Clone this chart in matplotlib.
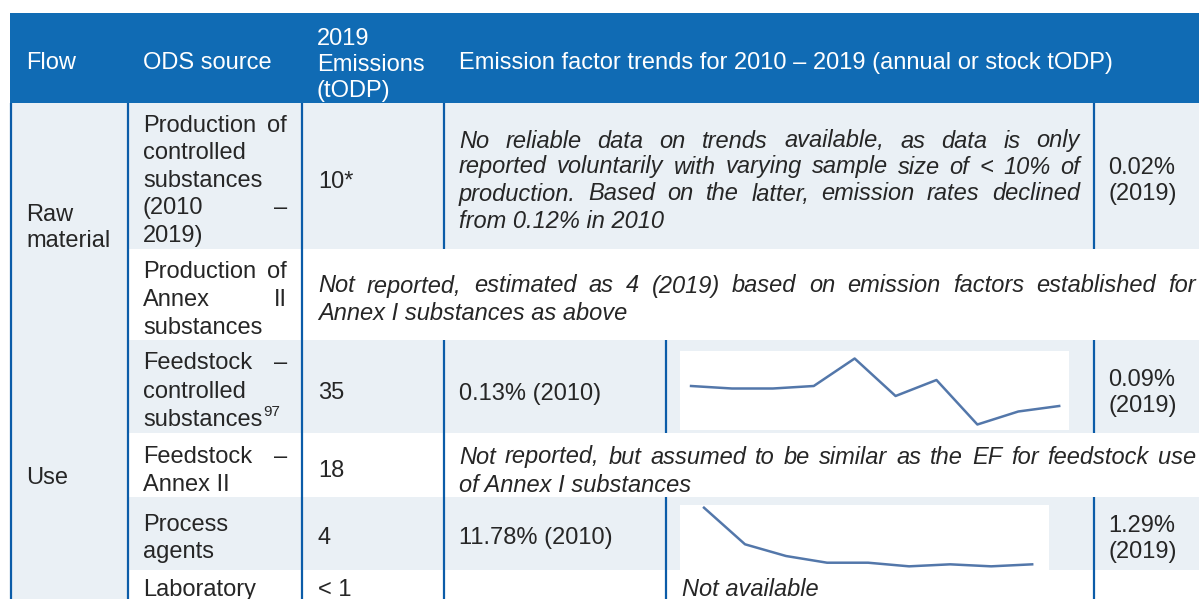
import numpy as np
import matplotlib
matplotlib.use("Agg")
import matplotlib.pyplot as plt
from matplotlib.patches import Rectangle

# table contents
header_cols = ["Flow", "ODS source", "2019\nEmissions\n(tODP)"]
header_trend = "Emission factor trends for 2010 – 2019 (annual or stock tODP)"
flows = ["Raw\nmaterial", "Use"]
emissions = ["10*", "35", "18", "4", "< 1"]
ef_first = ["0.13% (2010)", "11.78% (2010)"]
ef_last = ["0.02%\n(2019)", "0.09%\n(2019)", "1.29%\n(2019)"]
note_prod = ["No reliable data on trends available, as data is only",
             "reported voluntarily with varying sample size of < 10% of",
             "production. Based on the latter, emission rates declined",
             "from 0.12% in 2010"]
note_annex = ["Not reported, estimated as 4 (2019) based on emission factors established for",
              "Annex I substances as above"]
note_feed = ["Not reported, but assumed to be similar as the EF for feedstock use",
             "of Annex I substances"]

# sparkline values (emission factor, %)
feedstock_ef = [0.130, 0.125, 0.125, 0.130, 0.185, 0.110, 0.142, 0.053, 0.079, 0.090]
process_ef = [11.78, 5.00, 2.83, 1.59, 1.59, 0.92, 1.29, 0.92, 1.29]

W, H = 1199, 599
BLUE = "#106bb4"
LINE = "#0b5ca8"
GREY = "#eaf0f5"
TXT = "#262626"
SPARK = "#5377aa"
FS = 17

fig = plt.figure(figsize=(W / 100, H / 100), dpi=100)
ax = fig.add_axes([0, 0, 1, 1])
ax.set_xlim(0, W)
ax.set_ylim(H, 0)
ax.axis("off")
rend = fig.canvas.get_renderer()


def box(x0, y0, x1, y1, c):
    ax.add_patch(Rectangle((x0, y0), x1 - x0, y1 - y0, color=c, lw=0, zorder=0))


def vline(x, y0, y1):
    ax.plot([x, x], [y0, y1], color=LINE, lw=1.6, solid_capstyle="butt", zorder=3)


def txt(x, y, s, **kw):
    kw.setdefault("fontsize", FS)
    kw.setdefault("color", TXT)
    kw.setdefault("family", "Liberation Sans")
    kw.setdefault("linespacing", 1.25)
    return ax.text(x, y, s, ha="left", va="center", **kw)


def justify(x0, x1, y, line, **kw):
    words = line.split(" ")
    objs = [txt(x0, y, w, **kw) for w in words]
    widths = [o.get_window_extent(rend).width for o in objs]
    gap = (x1 - x0 - sum(widths)) / max(len(words) - 1, 1)
    x = x0
    for o, w in zip(objs, widths):
        o.set_x(x)
        x += w + gap


# header
box(10, 13, W, 103, BLUE)
txt(26, 63, header_cols[0], color="white")
txt(143, 63, header_cols[1], color="white")
txt(317, 65, header_cols[2], color="white", linespacing=1.22)
txt(459, 63, header_trend, color="white")

# row shading
box(11, 103, 128, H, GREY)
box(128, 103, W, 249, GREY)
box(128, 340, W, 433, GREY)
box(128, 497, W, 570, GREY)
box(680, 351, 1069, 430, "white")
box(680, 505, 1049, 570, "white")

# grid lines
vline(11, 103, H)
vline(128, 103, H)
vline(302, 103, H)
vline(444, 103, 249)
vline(444, 340, H)
vline(666, 340, 433)
vline(666, 497, H)
vline(1094, 103, 249)
vline(1094, 340, 433)
vline(1094, 497, H)

# flow column
txt(26, 228, flows[0])
txt(26, 478, flows[1])

# ODS source column
justify(143, 287, 126, "Production of")
txt(143, 153, "controlled")
txt(143, 181, "substances")
justify(143, 287, 208, "(2010 –")
txt(143, 236, "2019)")
justify(143, 287, 272, "Production of")
justify(143, 287, 300, "Annex II")
txt(143, 328, "substances")
justify(143, 287, 363, "Feedstock –")
txt(143, 392, "controlled")
t = txt(143, 420, "substances")
txt(143 + t.get_window_extent(rend).width + 1, 412, "97", fontsize=11)
justify(143, 287, 457, "Feedstock –")
txt(143, 485, "Annex II")
txt(143, 525, "Process")
txt(143, 552, "agents")
txt(143, 590, "Laboratory")

# emissions column
for y, e in zip([182, 393, 471, 538, 590], emissions):
    txt(318, y, e)

# emission factor columns
for i, (y, line) in enumerate(zip([141, 167, 194, 222], note_prod)):
    if i < 3:
        justify(459, 1080, y, line, style="italic")
    else:
        txt(459, y, line, style="italic")
justify(318, 1196, 286, note_annex[0], style="italic")
txt(318, 313, note_annex[1], style="italic")
justify(459, 1196, 457, note_feed[0], style="italic")
txt(459, 485, note_feed[1], style="italic")
txt(459, 394, ef_first[0])
txt(459, 538, ef_first[1])
txt(1108, 181, ef_last[0])
txt(1108, 393, ef_last[1])
txt(1108, 539, ef_last[2])
txt(682, 590, "Not available", style="italic")


# sparklines
def spark(x0, y0, x1, y1, vals, xlim, ylim):
    sa = fig.add_axes([x0 / W, 1 - y1 / H, (x1 - x0) / W, (y1 - y0) / H])
    sa.plot(np.arange(len(vals)), vals, color=SPARK, lw=1.8)
    sa.set_xlim(*xlim)
    sa.set_ylim(*ylim)
    sa.axis("off")


spark(680, 351, 1069, 430, feedstock_ef, (-0.27, 9.24), (0.042, 0.20))
spark(680, 505, 1049, 570, process_ef, (-0.585, 8.41), (0.24, 12.28))

fig.savefig("out.png", dpi=100)
